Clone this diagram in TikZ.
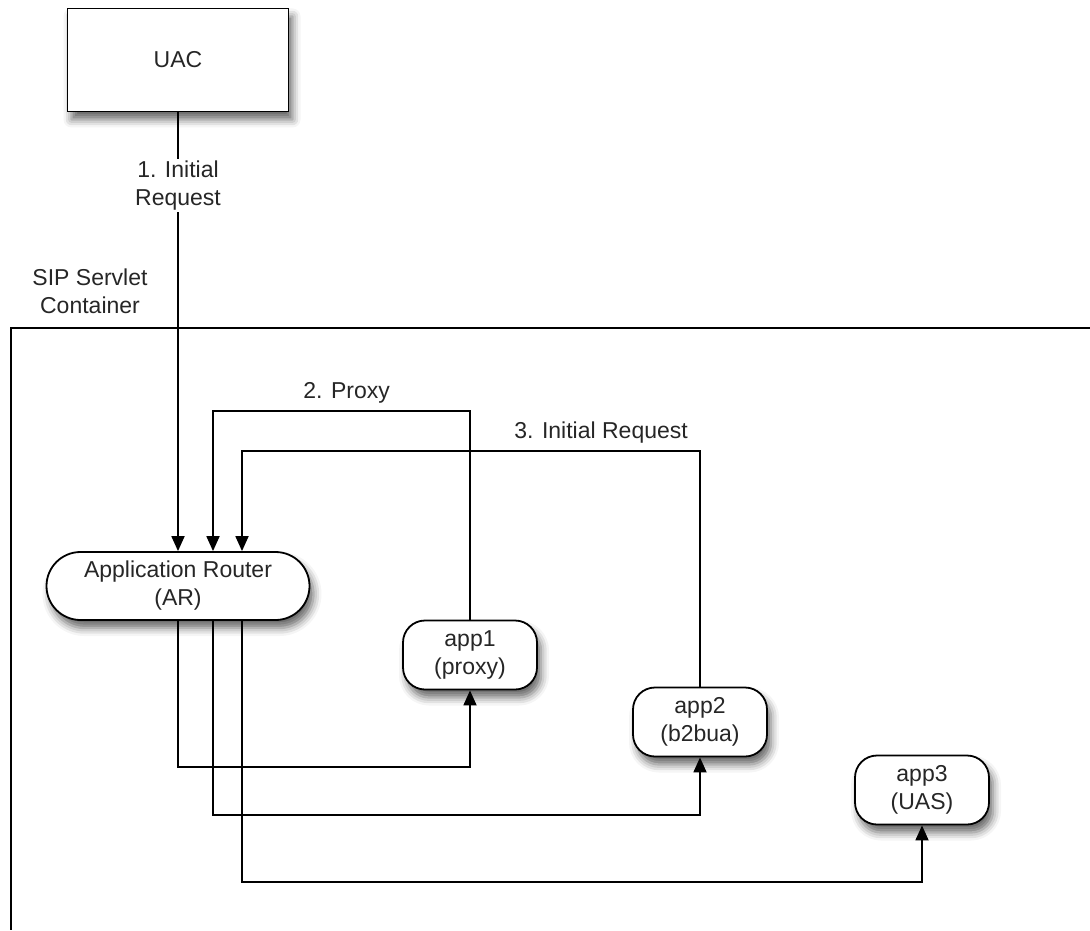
\documentclass[tikz,border=0pt]{standalone}
\usepackage{fontspec}
\setmainfont{Liberation Sans}
\usepackage{tikz}
\usetikzlibrary{arrows.meta}
\usetikzlibrary{shadows.blur, calc}

\begin{document}
\begin{tikzpicture}[x=0.5pt, y=-0.5pt,
    every node/.style={font=\fontsize{11.5}{14}\selectfont, text=black!85},
    box/.style={draw, line width=0.9pt, fill=white, inner sep=0pt, align=center,
      blur shadow={shadow xshift=2pt, shadow yshift=-4pt, shadow blur radius=4pt, shadow opacity=60}},
    app/.style={box, rounded corners=11pt, minimum width=67pt, minimum height=34.5pt},
    flow/.style={line width=0.9pt, -{Triangle[width=6.5pt,length=7.5pt]}}]
    \useasboundingbox (0,0) rectangle (1090,930);
    % container
    \draw[line width=0.9pt] (1090,328) -- (11,328) -- (11,930);
    \node[align=center] (sip) at (90,291) {SIP Servlet\\Container};
    % boxes
    \node[box, minimum width=110.5pt, minimum height=51.5pt] (uac) at (178,60) {UAC};
    \node[box, rounded corners=17pt, minimum width=131.5pt, minimum height=34pt] (ar) at (178,586) {Application Router\\(AR)};
    \node[app] (app1) at (470,655) {app1\\(proxy)};
    \node[app] (app2) at (700,722) {app2\\(b2bua)};
    \node[app] (app3) at (922,790) {app3\\(UAS)};
    % requests into the router
    \draw[flow] (uac) -- node[pos=0.166, fill=white, align=center, inner sep=1pt] {1. Initial\\Request} (ar);
    \draw[flow] (app1.north) -- ++(0,-209) -| node[pos=0.24, above] {2. Proxy} ($(ar.north)+(35,0)$);
    \draw[flow] (app2.north) -- ++(0,-236) -| node[pos=0.108, above] {3. Initial Request} ($(ar.north)+(64,0)$);
    % routing to the apps
    \draw[flow] (ar.south) -- ++(0,146) -| (app1.south);
    \draw[flow] ($(ar.south)+(35,0)$) -- ++(0,194) -| (app2.south);
    \draw[flow] ($(ar.south)+(64,0)$) -- ++(0,261) -| (app3.south);
\end{tikzpicture}
\end{document}
